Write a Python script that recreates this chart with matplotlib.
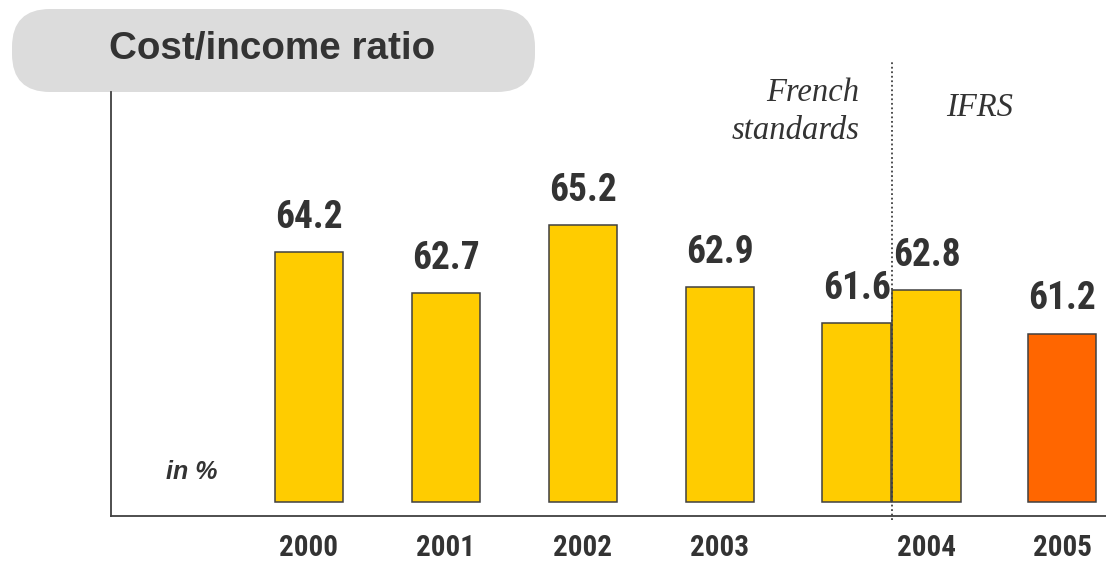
import matplotlib
matplotlib.use("Agg")
import matplotlib.pyplot as plt
from matplotlib.patches import FancyBboxPatch
from matplotlib import font_manager
from matplotlib.font_manager import FontProperties

# Data
years = ["2000", "2001", "2002", "2003", "2004", "2005"]
bar_labels = ["2000", "2001", "2002", "2003", "2004 French", "2004 IFRS", "2005"]
ratios = [64.2, 62.7, 65.2, 62.9, 61.6, 62.8, 61.2]
positions = [0, 1, 2, 3, 4, 4.51, 5.5]
year_ticks = [0, 1, 2, 3, 4.51, 5.5]
bar_colors = ["#FFCC00"] * 6 + ["#FF6600"]
base = 55.0


def narrow_bold():
    """Pick a condensed bold sans face if one is installed."""
    best = None
    for f in font_manager.fontManager.ttflist:
        w = f.weight if isinstance(f.weight, int) else font_manager.weight_dict.get(f.weight, 400)
        narrowish = ("Narrow" in f.name or "Condensed" in f.name
                     or f.stretch in ("condensed", "semi-condensed", "extra-condensed")
                     or "Narrow" in f.fname or "Condensed" in f.fname)
        if narrowish and w >= 600 and f.style == "normal":
            rank = 0 if "Liberation" in f.name else (1 if "Roboto" in f.name else 2)
            if best is None or rank < best[0]:
                best = (rank, f.fname)
    return best[1] if best else None


nfile = narrow_bold()
if nfile:
    def nprop(size):
        return FontProperties(fname=nfile, size=size)
    val_size, year_size = 27, 21
else:
    def nprop(size):
        return FontProperties(family="Liberation Sans", weight="bold", size=size)
    val_size, year_size = 23, 19

txt = "#333333"

W, H = 1106, 562
fig = plt.figure(figsize=(W / 100, H / 100), dpi=100)

# Background layer in pixel units for the title banner
bg = fig.add_axes([0, 0, 1, 1], zorder=0)
bg.set_xlim(0, W)
bg.set_ylim(H, 0)
bg.axis("off")
bg.add_patch(FancyBboxPatch((12, 9), 523, 83,
                            boxstyle="round,pad=0,rounding_size=38",
                            fc="#DCDCDC", ec="none"))
bg.text(272, 49, "Cost/income ratio", ha="center", va="center",
        fontsize=27.8, fontweight="bold", color=txt, family="Liberation Sans")

# Main chart
left, right, bottom, top = 111, 1106, 516, 92
ax = fig.add_axes([left / W, 1 - bottom / H, (right - left) / W, (bottom - top) / H], zorder=1)
ax.patch.set_alpha(0)

ax.bar(positions, [r - base for r in ratios], bottom=base, width=0.5,
       color=bar_colors, edgecolor="#404040", linewidth=1.1, zorder=2)

for x, v in zip(positions, ratios):
    ax.annotate(f"{v:.1f}", (x, v), xytext=(0, 17.3), textcoords="offset points",
                ha="center", va="baseline", fontproperties=nprop(val_size), color=txt)

ax.set_xlim(-1.445, 5.82)
ax.set_ylim(54.49, 70.08)
ax.set_xticks(year_ticks)
ax.set_xticklabels(years, color=txt, fontproperties=nprop(year_size))
ax.tick_params(axis="x", length=0, pad=13)
ax.set_yticks([])
for s in ("top", "right"):
    ax.spines[s].set_visible(False)
for s in ("left", "bottom"):
    ax.spines[s].set_color("#404040")
    ax.spines[s].set_linewidth(1.3)

# Separator between accounting standards
sep_x = positions[5] - 0.25
xt = ax.get_xaxis_transform()
ax.plot([sep_x, sep_x], [-0.009, 1.071], transform=xt,
        ls=(0, (1, 1.5)), color="#404040", lw=1.3, clip_on=False, zorder=3)

ax.text(4.022, 0.953, "French\nstandards", transform=xt,
        ha="right", va="center", fontsize=23.5, style="italic", color=txt,
        family="Liberation Serif", linespacing=1.3)
ax.text(4.898, 0.962, "IFRS", transform=xt,
        ha="center", va="center", fontsize=23.5, style="italic", color=txt,
        family="Liberation Serif")

ax.text(-0.858, 56.1, "in %", ha="center", va="center", fontsize=18,
        fontweight="bold", style="italic", color=txt, family="Liberation Sans")

fig.savefig("out.png", dpi=100)
